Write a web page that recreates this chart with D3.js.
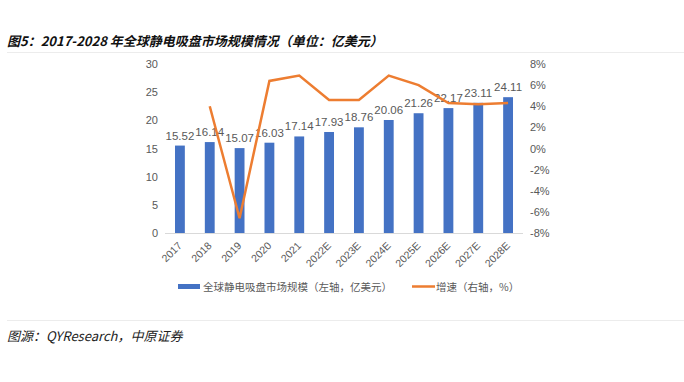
<!DOCTYPE html>
<html><head><meta charset="utf-8">
<script src="https://cdn.jsdelivr.net/npm/d3@7"></script>
<style>body{margin:0;background:#fff}svg{display:block}</style>
</head><body>
<svg id="c" width="684" height="382"></svg>
<script>
const categories = ["2017","2018","2019","2020","2021","2022E","2023E","2024E","2025E","2026E","2027E","2028E"];
const marketSize = [15.52,16.14,15.07,16.03,17.14,17.93,18.76,20.06,21.26,22.17,23.11,24.11];
const growth = [null,4.0,-6.6,6.4,6.9,4.6,4.6,6.9,6.0,4.3,4.2,4.3];
const leftTicks = [0,5,10,15,20,25,30];
const rightTicks = [-8,-6,-4,-2,0,2,4,6,8];
const titleText = "图5：2017-2028 年全球静电吸盘市场规模情况（单位：亿美元）";
const sourceText = "图源：QYResearch，中原证券";
const legendLabels = ["全球静电吸盘市场规模（左轴，亿美元）","增速（右轴，%）"];

const svg = d3.select("#c");
const font = "'Liberation Sans', Arial, 'Noto Sans CJK SC', sans-serif";
const cjk = "'Noto Sans CJK SC', sans-serif";
const blue = "#4472C4", orange = "#ED7D31", grey = "#595959";

svg.append("text").attr("x",7).attr("y",46).text(titleText)
  .style("font-family",cjk).style("font-size","13px").style("font-weight","bold")
  .style("font-style","italic").attr("fill","#111");
svg.append("line").attr("x1",7).attr("x2",684).attr("y1",52.5).attr("y2",52.5).attr("stroke","#ececec");
svg.append("line").attr("x1",7).attr("x2",684).attr("y1",320.5).attr("y2",320.5).attr("stroke","#ececec");
svg.append("text").attr("x",7).attr("y",341).text(sourceText)
  .style("font-family",cjk).style("font-size","13px").style("font-style","italic").attr("fill","#222");

const x = d3.scaleBand().domain(categories).range([165,523]).paddingInner(0.67).paddingOuter(0.335);
const y = d3.scaleLinear().domain([0,30]).range([233,64]);
const y2 = d3.scaleLinear().domain([-8,8]).range([233,64]);

// left axis
const gl = svg.append("g").attr("transform","translate(158,0)")
  .call(d3.axisLeft(y).tickValues(leftTicks).tickSize(0).tickPadding(0));
gl.select(".domain").remove();
gl.selectAll("text").style("font-family",font).style("font-size","11px").attr("fill",grey);

const gr = svg.append("g").attr("transform","translate(530,0)")
  .call(d3.axisRight(y2).tickValues(rightTicks).tickSize(0).tickPadding(0).tickFormat(d=>d+"%"));
gr.select(".domain").remove();
gr.selectAll("text").style("font-family",font).style("font-size","11px").attr("fill",grey);

// baseline
svg.append("line").attr("x1",165).attr("x2",523).attr("y1",233.5).attr("y2",233.5).attr("stroke","#d9d9d9");

// bars
svg.selectAll("rect.bar").data(categories).enter().append("rect")
  .attr("x",d=>x(d)).attr("width",x.bandwidth())
  .attr("y",(d,i)=>y(marketSize[i])).attr("height",(d,i)=>y(0)-y(marketSize[i]))
  .attr("fill",blue);

// bar labels
svg.selectAll("text.lbl").data(categories).enter().append("text")
  .attr("x",d=>x(d)+x.bandwidth()/2).attr("y",(d,i)=>y(marketSize[i])-6)
  .attr("text-anchor","middle").text((d,i)=>marketSize[i].toFixed(2))
  .style("font-family",font).style("font-size","11.5px").attr("fill",grey);

// line
const pts = categories.map((c,i)=>({c,v:growth[i]})).filter(p=>p.v!==null);
svg.append("path").datum(pts)
  .attr("d",d3.line().x(p=>x(p.c)+x.bandwidth()/2).y(p=>y2(p.v)))
  .attr("fill","none").attr("stroke",orange).attr("stroke-width",2.5).attr("stroke-linejoin","miter");

// x labels
const gx = svg.append("g").attr("transform","translate(0,238)")
  .call(d3.axisBottom(x).tickSize(0).tickPadding(0));
gx.select(".domain").remove();
gx.selectAll("text").attr("text-anchor","end").attr("dy","0.35em")
  .attr("transform","rotate(-45) translate(-4,4)")
  .style("font-family",font).style("font-size","10.5px").attr("fill",grey);

// legend
const lg = svg.append("g");
lg.append("rect").attr("x",178).attr("y",284).attr("width",22).attr("height",5).attr("fill",blue);
lg.append("text").attr("x",203).attr("y",290.5).text(legendLabels[0])
  .style("font-family",cjk).style("font-size","10.5px").attr("fill",grey);
lg.append("line").attr("x1",412).attr("x2",435).attr("y1",286.5).attr("y2",286.5).attr("stroke",orange).attr("stroke-width",2.5);
lg.append("text").attr("x",436).attr("y",290.5).text(legendLabels[1])
  .style("font-family",cjk).style("font-size","10.5px").attr("fill",grey);
</script>
</body></html>
